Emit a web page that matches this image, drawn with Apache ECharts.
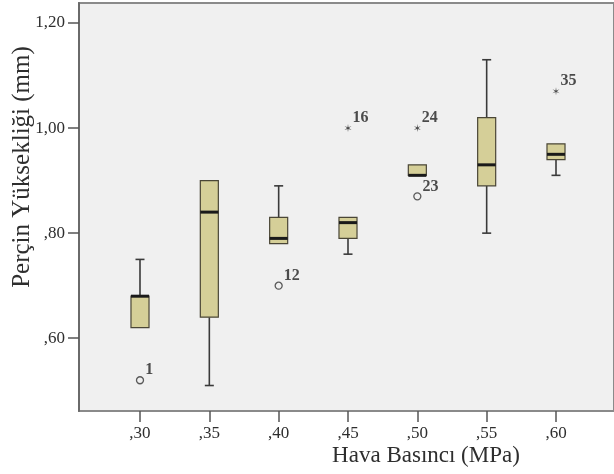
<!DOCTYPE html>
<html>
<head>
<meta charset="utf-8">
<script src="https://cdn.jsdelivr.net/npm/echarts@6/dist/echarts.min.js"></script>
<style>
html,body{margin:0;padding:0;background:#ffffff;}
#chart{width:614px;height:474px;}
</style>
</head>
<body>
<div id="chart"></div>
<script>
// ---- data ----
var categories = [',30', ',35', ',40', ',45', ',50', ',55', ',60'];
var minVals    = [0.62, 0.51, 0.78, 0.76, 0.91, 0.80, 0.91];
var q1Vals     = [0.62, 0.64, 0.78, 0.79, 0.91, 0.89, 0.94];
var medianVals = [0.68, 0.84, 0.79, 0.82, 0.91, 0.93, 0.95];
var q3Vals     = [0.68, 0.90, 0.83, 0.83, 0.93, 1.02, 0.97];
var maxVals    = [0.75, 0.90, 0.89, 0.83, 0.93, 1.13, 0.97];

var outlierCats = [',30', ',40', ',50'];
var outlierVals = [0.52, 0.70, 0.87];
var outlierIds  = ['1', '12', '23'];

var extremeCats = [',45', ',50', ',60'];
var extremeVals = [1.00, 1.00, 1.07];
var extremeIds  = ['16', '24', '35'];

var yTickValues = [0.60, 0.80, 1.00, 1.20];
var yTickLabels = [',60', ',80', '1,00', '1,20'];

var yTitle = 'Perçin Yüksekliği (mm)';
var xTitle = 'Hava Basıncı (MPa)';

// ---- build ----
var Y_MIN = 0.4615, Y_MAX = 1.238;
var SERIF = '"Liberation Serif","DejaVu Serif",serif';

var boxData = categories.map(function (c, i) {
  return [i, minVals[i], q1Vals[i], medianVals[i], q3Vals[i], maxVals[i]];
});
var outlierData = outlierCats.map(function (c, i) { return [c, outlierVals[i], outlierIds[i]]; });
var extremeData = extremeCats.map(function (c, i) { return [c, extremeVals[i], extremeIds[i]]; });

var starPath = 'path://M0,-5 L-0.6,-1.04 L-4.33,-2.5 L-1.2,0 L-4.33,2.5 L-0.6,1.04 L0,5 L0.6,1.04 L4.33,2.5 L1.2,0 L4.33,-2.5 L0.6,-1.04 Z';

function renderBox(params, api) {
  var x = api.value(0);
  var vMin = api.value(1), vQ1 = api.value(2), vMed = api.value(3), vQ3 = api.value(4), vMax = api.value(5);
  var band = api.size([1, 0])[0];
  var halfW = band * 0.13;
  var capHalf = halfW * 0.5;
  var pMin = api.coord([x, vMin]);
  var pQ1 = api.coord([x, vQ1]);
  var pMed = api.coord([x, vMed]);
  var pQ3 = api.coord([x, vQ3]);
  var pMax = api.coord([x, vMax]);
  var cx = pMed[0];
  var children = [];
  var wStyle = { stroke: '#3a3a3a', lineWidth: 1.6 };
  if (vMax > vQ3 + 1e-9) {
    children.push({ type: 'line', shape: { x1: cx, y1: pQ3[1], x2: cx, y2: pMax[1] }, style: wStyle });
    children.push({ type: 'line', shape: { x1: cx - capHalf, y1: pMax[1], x2: cx + capHalf, y2: pMax[1] }, style: wStyle });
  }
  if (vMin < vQ1 - 1e-9) {
    children.push({ type: 'line', shape: { x1: cx, y1: pQ1[1], x2: cx, y2: pMin[1] }, style: wStyle });
    children.push({ type: 'line', shape: { x1: cx - capHalf, y1: pMin[1], x2: cx + capHalf, y2: pMin[1] }, style: wStyle });
  }
  children.push({
    type: 'rect',
    shape: { x: cx - halfW, y: pQ3[1], width: halfW * 2, height: Math.max(pQ1[1] - pQ3[1], 1) },
    style: { fill: '#d5cf98', stroke: '#4a4636', lineWidth: 1.2 }
  });
  children.push({
    type: 'line',
    shape: { x1: cx - halfW, y1: pMed[1], x2: cx + halfW, y2: pMed[1] },
    style: { stroke: '#1a1a1a', lineWidth: 3 }
  });
  return { type: 'group', children: children };
}

var chart = echarts.init(document.getElementById('chart'), null, { renderer: 'canvas' });

var option = {
  backgroundColor: '#ffffff',
  animation: false,
  grid: [
    { left: 79, right: -2, top: 3, bottom: 63, show: true, backgroundColor: '#f0f0f0', borderColor: '#8a8a8a', borderWidth: 2 },
    { left: 105.33, right: 23.33, top: 3, bottom: 63 }
  ],
  xAxis: [
    { gridIndex: 0, type: 'value', min: 0, max: 1, show: false },
    {
      gridIndex: 1, type: 'category', data: categories, boundaryGap: true,
      axisLine: { show: false },
      axisTick: { show: true, alignWithLabel: true, length: 11, lineStyle: { color: '#555555', width: 1.5 } },
      axisLabel: { margin: 14, fontFamily: SERIF, fontSize: 17, color: '#2e2e2e' },
      splitLine: { show: false }
    }
  ],
  yAxis: [
    {
      gridIndex: 0, type: 'value', min: Y_MIN, max: Y_MAX,
      axisLine: { show: true, lineStyle: { color: '#6a6a6a', width: 2 } },
      axisTick: { show: true, length: 11, customValues: yTickValues, lineStyle: { color: '#555555', width: 1.5 } },
      axisLabel: {
        margin: 14, fontFamily: SERIF, fontSize: 17, color: '#2e2e2e',
        customValues: yTickValues,
        formatter: function (v) {
          for (var i = 0; i < yTickValues.length; i++) {
            if (Math.abs(yTickValues[i] - v) < 1e-6) return yTickLabels[i];
          }
          return '';
        }
      },
      splitLine: { show: false }
    },
    { gridIndex: 1, type: 'value', min: Y_MIN, max: Y_MAX, show: false }
  ],
  graphic: [
    {
      type: 'text', x: 22, y: 167, rotation: Math.PI / 2,
      style: { text: yTitle, fontFamily: SERIF, fontSize: 25, fill: '#2e2e2e', textAlign: 'center', textVerticalAlign: 'middle' }
    },
    {
      type: 'text', x: 426, y: 456,
      style: { text: xTitle, fontFamily: SERIF, fontSize: 23, fill: '#2e2e2e', textAlign: 'center', textVerticalAlign: 'middle' }
    }
  ],
  series: [
    {
      type: 'custom', xAxisIndex: 1, yAxisIndex: 1,
      renderItem: renderBox,
      encode: { x: 0, y: [1, 2, 3, 4, 5] },
      data: boxData,
      z: 2
    },
    {
      type: 'scatter', xAxisIndex: 1, yAxisIndex: 1,
      symbol: 'circle', symbolSize: 7,
      itemStyle: { color: '#f0f0f0', borderColor: '#333333', borderWidth: 1.3 },
      label: {
        show: true, position: 'right', distance: 1, offset: [0, -10],
        formatter: function (p) { return p.data[2]; },
        fontFamily: SERIF, fontSize: 16, fontWeight: 'bold', color: '#222222'
      },
      data: outlierData,
      z: 3
    },
    {
      type: 'scatter', xAxisIndex: 1, yAxisIndex: 1,
      symbol: starPath, symbolSize: [7, 8],
      itemStyle: { color: '#222222' },
      label: {
        show: true, position: 'right', distance: 1, offset: [0, -10],
        formatter: function (p) { return p.data[2]; },
        fontFamily: SERIF, fontSize: 16, fontWeight: 'bold', color: '#222222'
      },
      data: extremeData,
      z: 3
    }
  ]
};

chart.setOption(option);
</script>
</body>
</html>
